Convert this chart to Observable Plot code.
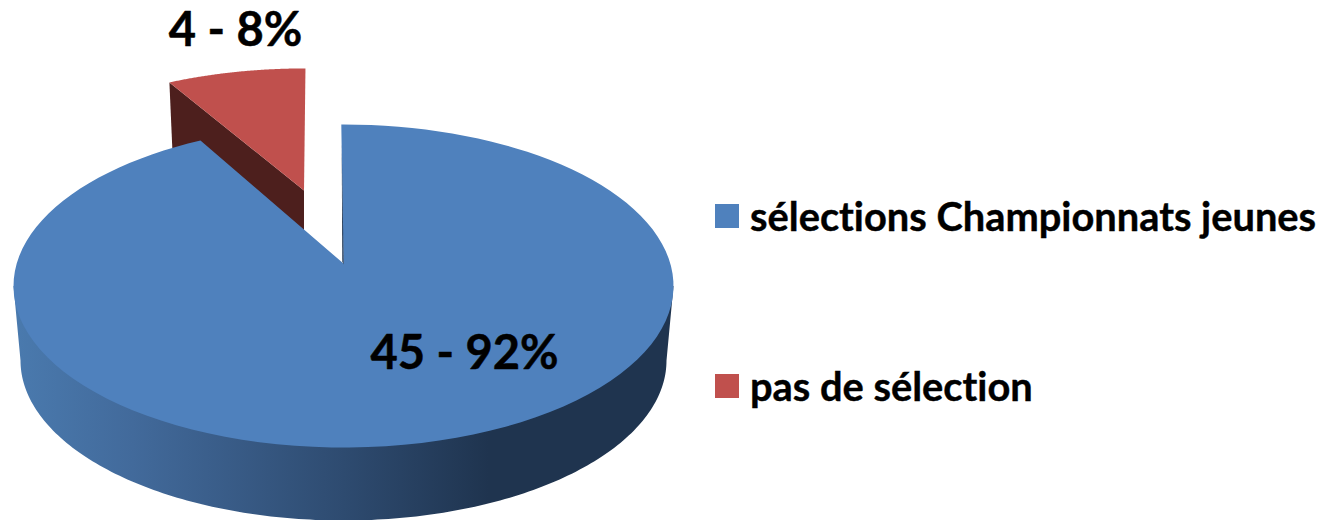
<!DOCTYPE html>
<html lang="fr">
<head>
<meta charset="utf-8">
<script src="https://cdn.jsdelivr.net/npm/d3@7"></script>
<script src="https://cdn.jsdelivr.net/npm/@observablehq/plot@0.6"></script>
<style>
html,body{margin:0;padding:0;background:#fff;width:1328px;height:520px;overflow:hidden}
#chart{position:relative;width:1328px;height:520px}
#chart svg{display:block}
#chart text{font-variant-ligatures:none}
.lg{position:absolute;left:715px;display:flex;align-items:center;font:700 39.8px Lato,sans-serif;font-variant-ligatures:none;color:#000;white-space:nowrap;line-height:48px;-webkit-text-stroke:.4px #000}
.lg i{display:block;width:24px;height:24px;margin-right:11px}
</style>
</head>
<body>
<div id="chart"></div>
<script>
const categories = ["sélections Championnats jeunes", "pas de sélection"];
const counts = [45, 4];
const percents = [92, 8];
const colors = ["#4f81bd", "#c0504d"];
const wallColors = ["#1f3552", "#4d1f1d"];

const total = d3.sum(counts);
const splitAngle = counts[0] / total * 2 * Math.PI;

// Top face of the pie: a perspective view of a circle, seen as an ellipse whose
// hub lies above the ellipse's centre.
const W = 1328, H = 520;
const cx = 343, cy = 285.5, rx = 330, ry = 161.5, d = 0.139;
const rim = (a) => {
  const k = 1 + d * Math.cos(a);
  return [cx + rx * Math.sin(a) * Math.sqrt(1 - d * d) / k, cy - ry * (Math.cos(a) + d) / k];
};
const hub = [cx, cy - ry * d];
const arc = (a0, a1) => d3.range(0, 121).map((i) => rim(a0 + (a1 - a0) * i / 120));

// Blue slice and wall
const rimTop = rim(0);
const bluePts = [hub, [rimTop[0] - 2.2, rimTop[1]], ...arc(0, splitAngle)];
const bottom = {cx, cy: 360, rx: 323, ry: 160};
const wallPts = [
  [cx + rx, cy],
  [bottom.cx + bottom.rx, bottom.cy],
  ...d3.range(0, 181).map((t) => [
    bottom.cx + bottom.rx * Math.cos(t * Math.PI / 180),
    bottom.cy + bottom.ry * Math.sin(t * Math.PI / 180)
  ]),
  [cx - rx, cy]
];

// Red slice pulled out of the pie
const redHub = [303.5, 190], sx = 0.95, sy = 0.878, shear = 0.012;
const pull = ([x, y]) => {
  const py = redHub[1] + sy * (y - hub[1]);
  return [redHub[0] + sx * (x - hub[0]) + shear * (redHub[1] - py), py];
};
const redPts = [redHub, ...arc(splitAngle, 2 * Math.PI).map(pull)];
const corner = pull(rim(splitAngle));
const redWall = [corner, [corner[0] + 3, corner[1] + 68], [redHub[0], redHub[1] + 50], redHub];

// Thin dark sliver of the inner wall along the blue slice's cut
const notch = [[rimTop[0] - 1.8, rimTop[1] + 20], [hub[0] + 0.2, hub[1] + 1], [hub[0] - 1.2, hub[1] - 2]];

const gradient = () => {
  const ns = "http://www.w3.org/2000/svg";
  const defs = document.createElementNS(ns, "defs");
  const g = document.createElementNS(ns, "linearGradient");
  g.setAttribute("id", "wall");
  g.setAttribute("gradientUnits", "userSpaceOnUse");
  g.setAttribute("x1", cx - rx); g.setAttribute("x2", cx + rx);
  g.setAttribute("y1", 0); g.setAttribute("y2", 0);
  [[0, "#4a7aae"], [0.18, "#426a9b"], [0.5, "#2e4b70"], [0.72, "#1f344f"], [1, "#1f344f"]].forEach(([o, c]) => {
    const s = document.createElementNS(ns, "stop");
    s.setAttribute("offset", o); s.setAttribute("stop-color", c);
    g.appendChild(s);
  });
  defs.appendChild(g);
  return defs;
};

const poly = (pts, fill) => Plot.line(pts, {x: "0", y: "1", fill, stroke: "none"});
const labelOf = (i) => `${counts[i]} - ${percents[i]}%`;
const labelStyle = {fontFamily: "Lato, sans-serif", fontWeight: 700, fontSize: 47, fill: "#000",
  stroke: "#000", strokeWidth: 0.5, textAnchor: "middle"};

const plot = Plot.plot({
  width: W, height: H, margin: 0,
  x: {domain: [0, W], range: [0, W], axis: null},
  y: {domain: [0, H], range: [0, H], axis: null},
  marks: [
    gradient,
    poly(redWall, wallColors[1]),
    poly(redPts, colors[1]),
    poly(wallPts, "url(#wall)"),
    poly(bluePts, colors[0]),
    poly(notch, wallColors[0]),
    Plot.text([hub], {x: "0", y: "1", text: () => labelOf(0), dx: 121, dy: 90, ...labelStyle}),
    Plot.text([redHub], {x: "0", y: "1", text: () => labelOf(1), dx: -68.5, dy: -160, ...labelStyle})
  ]
});
const root = document.getElementById("chart");
root.appendChild(plot);

const legendTops = [192, 362];
categories.forEach((c, i) => {
  const el = document.createElement("div");
  el.className = "lg";
  el.style.top = legendTops[i] + "px";
  const sw = document.createElement("i");
  sw.style.background = colors[i];
  el.appendChild(sw);
  el.appendChild(document.createTextNode(c));
  root.appendChild(el);
});
</script>
</body>
</html>
